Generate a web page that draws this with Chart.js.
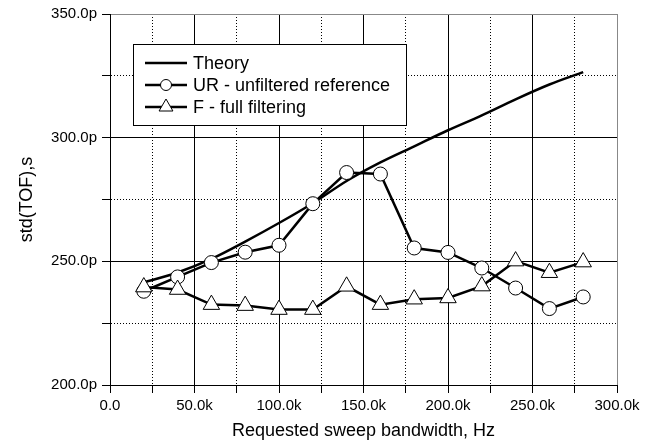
<!DOCTYPE html>
<html>
<head>
<meta charset="utf-8">
<script src="https://cdn.jsdelivr.net/npm/chart.js@4.4.0/dist/chart.umd.min.js"></script>
<style>
    html, body { margin: 0; padding: 0; background: #fff; }
    #wrap { width: 654px; height: 443px; }
</style>
</head>
<body>
<div id="wrap"><canvas id="stdChart"></canvas></div>
<script>
// Données (y en ps)
const bandwidth = [20000, 40000, 60000, 80000, 100000, 120000, 140000, 160000, 180000, 200000, 220000, 240000, 260000, 280000];
const theory = [241.5, 245.5, 251, 258, 265.5, 273.5, 282.5, 290, 296.5, 303, 309, 315.5, 321.5, 326.5];
const unfiltered = [237.9, 243.7, 249.5, 253.7, 256.5, 273.3, 285.9, 285.3, 255.4, 253.6, 247.3, 239.2, 230.9, 235.6];
const fullFiltering = [239.6, 238.6, 232.5, 232.1, 230.5, 230.5, 239.9, 232.5, 234.7, 235.2, 240.0, 250.1, 245.4, 249.7];

const xTickLabels = ['0.0', '50.0k', '100.0k', '150.0k', '200.0k', '250.0k', '300.0k'];
const yTickLabels = ['200.0p', '250.0p', '300.0p', '350.0p'];

const FONT = '"Liberation Sans", Arial, sans-serif';

function toPoints(values) {
    return bandwidth.map((x, i) => ({ x: x, y: values[i] }));
}

// Légende dessinée dans la zone du graphique
const legendBox = {
    id: 'legendBox',
    afterDatasetsDraw(chart) {
        const { ctx, chartArea } = chart;
        const left = chartArea.left + 23;
        const top = chartArea.top + 30;
        const w = 273, h = 81;
        ctx.save();
        ctx.fillStyle = '#fff';
        ctx.fillRect(left, top, w, h);
        ctx.strokeStyle = '#000';
        ctx.lineWidth = 1;
        ctx.strokeRect(left + 0.5, top + 0.5, w, h);

        chart.data.datasets.forEach((ds, i) => {
            const y = top + 19 + i * 22;
            ctx.beginPath();
            ctx.moveTo(left + 12, y);
            ctx.lineTo(left + 54, y);
            ctx.strokeStyle = '#000';
            ctx.lineWidth = 2.5;
            ctx.stroke();

            const cx = left + 33;
            ctx.lineWidth = 1;
            ctx.fillStyle = '#fff';
            if (ds.legendMarker === 'circle') {
                ctx.beginPath();
                ctx.arc(cx, y, 5.5, 0, Math.PI * 2);
                ctx.fill();
                ctx.stroke();
            } else if (ds.legendMarker === 'triangle') {
                const r = 8;
                ctx.beginPath();
                ctx.moveTo(cx, y - r);
                ctx.lineTo(cx + r * 0.866, y + r * 0.5);
                ctx.lineTo(cx - r * 0.866, y + r * 0.5);
                ctx.closePath();
                ctx.fill();
                ctx.stroke();
            }

            ctx.fillStyle = '#000';
            ctx.font = '18px ' + FONT;
            ctx.textBaseline = 'middle';
            ctx.textAlign = 'left';
            ctx.fillText(ds.label, left + 60, y + 1);
        });
        ctx.restore();
    }
};

document.addEventListener('DOMContentLoaded', function() {
    const ctx = document.getElementById('stdChart');

    new Chart(ctx, {
        type: 'line',
        data: {
            datasets: [{
                label: 'Theory',
                data: toPoints(theory),
                borderColor: '#000',
                borderWidth: 2.5,
                pointRadius: 0,
                cubicInterpolationMode: 'monotone',
                order: 2
            }, {
                label: 'UR - unfiltered reference',
                legendMarker: 'circle',
                data: toPoints(unfiltered),
                borderColor: '#000',
                borderWidth: 2.5,
                pointStyle: 'circle',
                pointRadius: 7,
                pointBackgroundColor: '#fff',
                pointBorderColor: '#000',
                pointBorderWidth: 1,
                order: 1
            }, {
                label: 'F - full filtering',
                legendMarker: 'triangle',
                data: toPoints(fullFiltering),
                borderColor: '#000',
                borderWidth: 2.5,
                pointStyle: 'triangle',
                pointRadius: 9.5,
                pointBackgroundColor: '#fff',
                pointBorderColor: '#000',
                pointBorderWidth: 1,
                order: 0
            }]
        },
        options: {
            responsive: true,
            maintainAspectRatio: false,
            animation: false,
            layout: {
                padding: { top: 13, right: 37, left: 0, bottom: 0 }
            },
            plugins: {
                legend: { display: false },
                tooltip: { enabled: false }
            },
            scales: {
                x: {
                    type: 'linear',
                    min: 0,
                    max: 300000,
                    afterFit: function(scale) { scale.height = 58; },
                    ticks: {
                        stepSize: 25000,
                        autoSkip: false,
                        maxRotation: 0,
                        padding: 4,
                        color: '#000',
                        font: { family: FONT, size: 15 },
                        callback: function(value, index) {
                            return index % 2 === 0 ? xTickLabels[index / 2] : '';
                        }
                    },
                    grid: {
                        color: c => (c.tick && c.tick.value === 300000) ? '#888' : '#000',
                        lineWidth: 1,
                        tickLength: 8,
                        tickColor: '#000'
                    },
                    border: {
                        color: '#000',
                        width: 1,
                        dash: c => (c.tick && c.tick.value % 50000 !== 0) ? [1, 2] : []
                    },
                    title: {
                        display: true,
                        text: 'Requested sweep bandwidth, Hz',
                        color: '#000',
                        font: { family: FONT, size: 18 },
                        padding: { top: 0, bottom: 1 }
                    }
                },
                y: {
                    min: 200,
                    max: 350,
                    afterFit: function(scale) { scale.width = 110; },
                    ticks: {
                        stepSize: 25,
                        autoSkip: false,
                        padding: 5,
                        color: '#000',
                        font: { family: FONT, size: 15 },
                        callback: function(value, index) {
                            return index % 2 === 0 ? yTickLabels[index / 2] : '';
                        }
                    },
                    grid: {
                        color: c => (c.tick && c.tick.value === 350) ? '#888' : '#000',
                        lineWidth: 1,
                        tickLength: 8,
                        tickColor: '#000'
                    },
                    border: {
                        color: '#000',
                        width: 1,
                        dash: c => (c.tick && c.tick.value % 50 !== 0) ? [1, 2] : []
                    },
                    title: {
                        display: true,
                        text: 'std(TOF),s',
                        color: '#000',
                        font: { family: FONT, size: 18 },
                        padding: { top: 16, bottom: 0 }
                    }
                }
            }
        },
        plugins: [legendBox]
    });
});
</script>
</body>
</html>
